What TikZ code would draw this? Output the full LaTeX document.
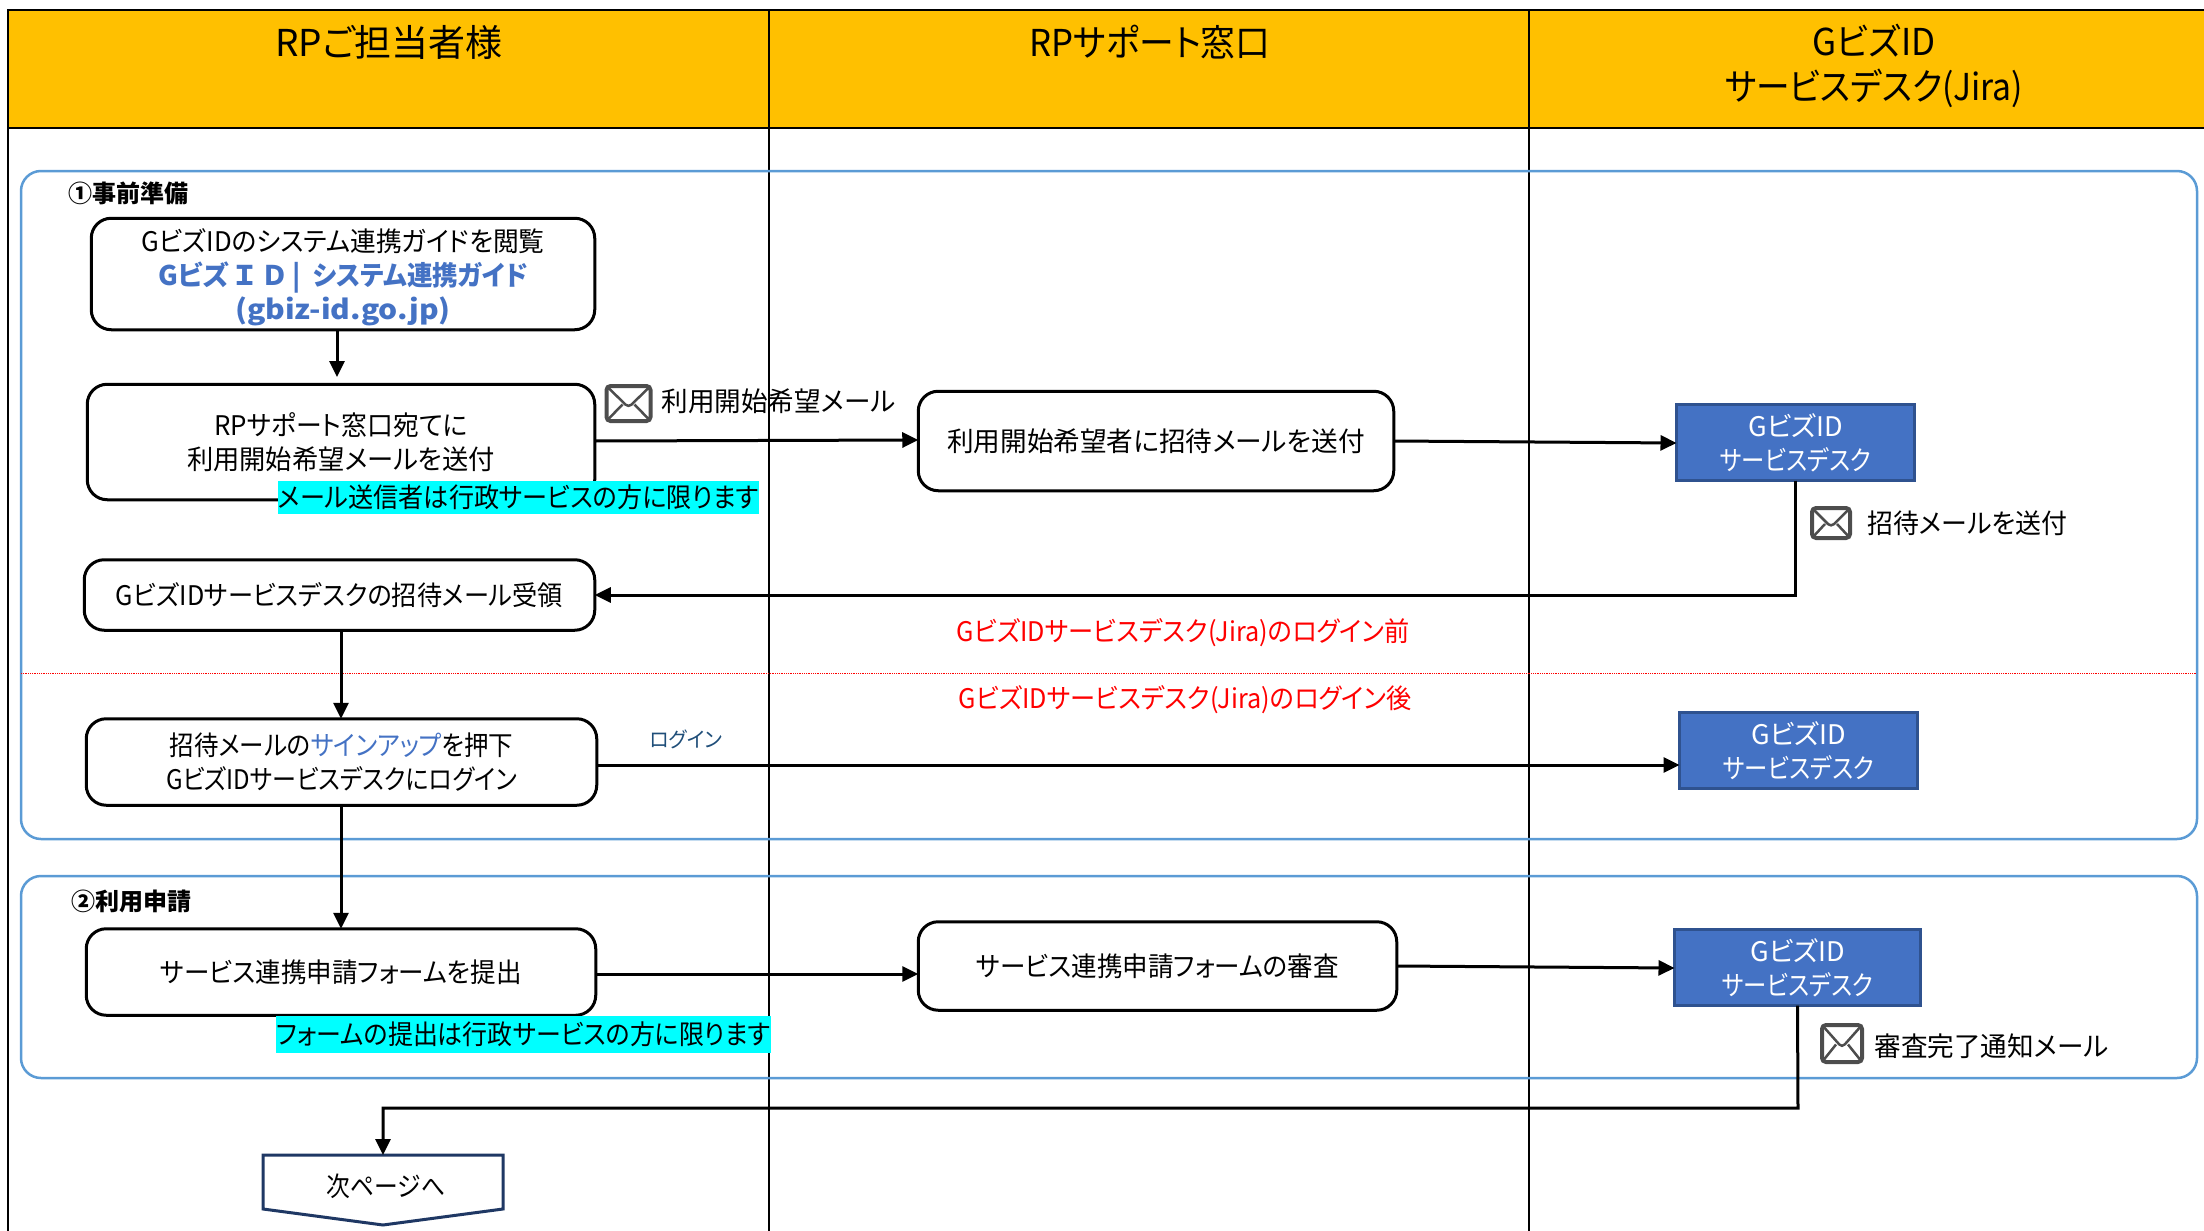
\documentclass[tikz,border=0pt]{standalone}
\usepackage{graphicx}
\usepackage{fontspec}
\setmainfont{Noto Sans CJK JP}[RawFeature=+palt]
\newfontfamily\widefont{Noto Sans CJK JP}
\usetikzlibrary{arrows.meta}
\newcommand{\squeeze}[2]{\scalebox{#1}[1]{#2}}
\definecolor{headyellow}{HTML}{FFC000}
\definecolor{groupblue}{HTML}{5B9BD5}
\definecolor{deskblue}{HTML}{4472C4}
\definecolor{deskedge}{HTML}{2F528F}
\definecolor{iconedge}{HTML}{4D4D4D}
\definecolor{nextedge}{HTML}{1F3864}
\definecolor{loginblue}{HTML}{1F4E79}
\definecolor{markcyan}{HTML}{00FFFF}
\tikzset{
  groupbox/.style={draw=groupblue,line width=2.5pt,rounded corners=20pt},
  stepbox/.style={draw=black,line width=3pt,rounded corners=20pt,inner sep=0pt,outer sep=0pt,align=center,fill=white,font=\fontsize{27}{34}\selectfont},
  deskbox/.style={draw=deskedge,line width=3pt,fill=deskblue,text=white,inner sep=0pt,outer sep=0pt,align=center,font=\fontsize{27}{34}\selectfont},
  headtext/.style={align=center,font=\fontsize{37}{45}\selectfont},
  plaintext/.style={font=\fontsize{27}{34}\selectfont},
  marktext/.style={fill=markcyan,inner sep=0pt,font=\fontsize{27}{34}\selectfont},
  redtext/.style={text=red,font=\fontsize{27}{34}\selectfont},
  grouptext/.style={font=\bfseries\fontsize{24}{28}\selectfont},
  mailicon/.style={draw=iconedge,line width=4pt,rounded corners=4pt,inner sep=0pt,outer sep=0pt,fill=white,
    path picture={\draw[iconedge,line width=2.5pt]
      (path picture bounding box.north west) -- ([yshift=-4pt]path picture bounding box.center)
      -- (path picture bounding box.north east)
      (path picture bounding box.south west) -- ([xshift=-6pt,yshift=-1pt]path picture bounding box.center)
      (path picture bounding box.south east) -- ([xshift=6pt,yshift=-1pt]path picture bounding box.center);}},
  flow/.style={draw=black,line width=3pt,-{Triangle[length=16pt,width=15pt]}}
}
\begin{document}
\begin{tikzpicture}[x=1pt,y=-1pt]
  \useasboundingbox (0,0) rectangle (2204,1231);
  % header and lanes
  \fill[headyellow] (8,10) rectangle (2204,128);
  \draw[line width=2.5pt] (2204,10) -- (8,10) -- (8,1231);
  \draw[line width=2.5pt] (8,128) -- (2204,128);
  \draw[line width=2.5pt] (769,10) -- (769,1231);
  \draw[line width=2.5pt] (1529,10) -- (1529,1231);
  \draw
    (389,42) node[headtext] (headrp){RPご担当者様}
    (1150,42) node[headtext] (headsupport){\squeeze{.94}{RPサポート窓口}}
    (1874,66) node[headtext] (headdesk){\squeeze{.945}{GビズID}\\\squeeze{.91}{サービスデスク(Jira)}};
  % groups
  \draw[groupbox] (21,171) rectangle (2197,839);
  \draw[groupbox] (21,876) rectangle (2197,1078);
  \draw (65,193) node[grouptext,anchor=west] (groupone){①事前準備}
        (68,901) node[grouptext,anchor=west] (grouptwo){②利用申請};
  \draw[red,densely dotted,line width=.8pt] (21,673) -- (2197,673);
  % steps
  \draw
    (343,274) node[stepbox,minimum width=503.5pt,minimum height=111.5pt] (guide){\rule{0pt}{30pt}\squeeze{.953}{GビズIDのシステム連携ガイドを閲覧}\\\textcolor{deskblue}{\bfseries Gビズ\hspace{3pt}{\widefont Ｉ\hspace{3pt}Ｄ\hspace{4pt}|\hspace{12pt}}\squeeze{.945}{システム連携ガイド}}\\\textcolor{deskblue}{\bfseries\squeeze{1.11}{(gbiz-id.go.jp)}}}
    (341,442) node[stepbox,minimum width=507.5pt,minimum height=115.5pt] (request){\squeeze{.957}{RPサポート窓口宛てに}\\\squeeze{.973}{利用開始希望メールを送付}}
    (339.5,595) node[stepbox,minimum width=510.5pt,minimum height=70.5pt] (receive){\squeeze{.933}{GビズIDサービスデスクの招待メール受領}}
    (341.5,762) node[stepbox,minimum width=510.5pt,minimum height=86.5pt] (signup){\squeeze{.907}{招待メールの\textcolor{deskblue}{サインアップ}を押下}\\\squeeze{.89}{GビズIDサービスデスクにログイン}}
    (341,972) node[stepbox,minimum width=509.5pt,minimum height=86.5pt] (submit){\squeeze{.945}{サービス連携申請フォームを提出}}
    (1156,441) node[stepbox,minimum width=475.5pt,minimum height=99.5pt] (invite){\squeeze{.987}{利用開始希望者に招待メールを送付}}
    (1157.5,966) node[stepbox,minimum width=478.5pt,minimum height=88.5pt] (review){\squeeze{.945}{サービス連携申請フォームの審査}}
    (1795.5,442.5) node[deskbox,minimum width=238pt,minimum height=76pt] (deskone){GビズID\\\squeeze{.864}{サービスデスク}}
    (1798.5,750.5) node[deskbox,minimum width=238pt,minimum height=76pt] (desktwo){GビズID\\\squeeze{.864}{サービスデスク}}
    (1797.5,967.5) node[deskbox,minimum width=246pt,minimum height=76pt] (deskthree){GビズID\\\squeeze{.864}{サービスデスク}};
  \draw[draw=nextedge,line width=3pt] (263,1155) -- (503,1155) -- (503,1209) -- (383,1225) -- (263,1209) -- cycle;
  \path (386,1186) node[plaintext] (nextpage){\squeeze{.88}{次ページへ}};
  % connectors
  \coordinate (guideend) at (337,377);
  \begin{scope}[flow]
    \draw (guide.south -| guideend) -- (guideend);
    \draw (request.east |- 0,441) -- (invite.west |- 0,440);
    \draw (invite.east |- 0,441) -- (deskone.west |- 0,443);
    \draw (deskone.south) |- (receive.east);
    \draw (receive.south -| 341,0) -- (signup.north -| 341,0);
    \draw (signup.east |- 0,765) -- (desktwo.west |- 0,765);
    \draw (signup.south -| 341,0) -- (submit.north -| 341,0);
    \draw (submit.east |- 0,974) -- (review.west |- 0,974);
    \draw (review.east |- 0,966) -- (deskthree.west |- 0,968);
    \draw (deskthree.south) -- (1798,1108) -- (383,1108) -- (383,1155);
  \end{scope}
  % labels
  \draw
    (628.5,403.5) node[mailicon,minimum width=44pt,minimum height=35pt] (mailone){}
    (1831,523) node[mailicon,minimum width=38pt,minimum height=30pt] (mailtwo){}
    (1842,1043.5) node[mailicon,minimum width=40pt,minimum height=37pt] (mailthree){}
    (658,401) node[plaintext,anchor=west] (mailonetext){\squeeze{.985}{利用開始希望メール}}
    (1864,523) node[plaintext,anchor=west] (mailtwotext){\squeeze{.96}{招待メールを送付}}
    (1871,1046) node[plaintext,anchor=west] (mailthreetext){\squeeze{.985}{審査完了通知メール}}
    (686,739) node[text=loginblue,font=\fontsize{21}{26}\selectfont] (logintext){\squeeze{.95}{ログイン}}
    (1183,633) node[redtext] (beforetext){\squeeze{.933}{GビズIDサービスデスク(Jira)のログイン前}}
    (1185,700) node[redtext] (aftertext){\squeeze{.933}{GビズIDサービスデスク(Jira)のログイン後}}
    (518.5,497.5) node[marktext,minimum width=481pt,minimum height=33pt] (marksender){\squeeze{.93}{メール送信者は行政サービスの方に限ります}}
    (523.5,1034) node[marktext,minimum width=493pt,minimum height=37pt] (markform){\squeeze{.924}{フォームの提出は行政サービスの方に限ります}};
\end{tikzpicture}
\end{document}
